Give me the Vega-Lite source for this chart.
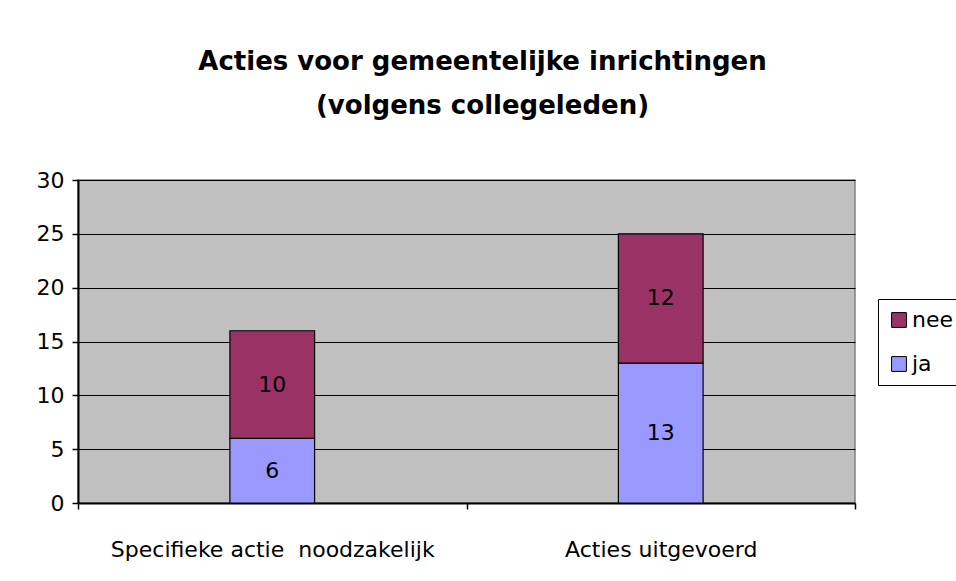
{
  "$schema": "https://vega.github.io/schema/vega-lite/v6.json",
  "autosize": "none",
  "width": 777,
  "height": 323,
  "padding": {"left": 78, "top": 180, "right": 101, "bottom": 78},
  "background": "white",
  "title": {
    "text": ["Acties voor gemeentelijke inrichtingen", "(volgens collegeleden)"],
    "anchor": "middle",
    "frame": "group",
    "dx": 16,
    "offset": 64,
    "dy": 40,
    "font": "DejaVu Sans",
    "fontSize": 26,
    "fontWeight": "bold",
    "color": "black",
    "lineHeight": 44,
    "baseline": "bottom"
  },
  "data": {
    "values": [
      {"categorie": "Specifieke actie\u00a0 noodzakelijk", "antwoord": "ja", "aantal": 6},
      {"categorie": "Specifieke actie\u00a0 noodzakelijk", "antwoord": "nee", "aantal": 10},
      {"categorie": "Acties uitgevoerd", "antwoord": "ja", "aantal": 13},
      {"categorie": "Acties uitgevoerd", "antwoord": "nee", "aantal": 12}
    ]
  },
  "transform": [
    {"stack": "aantal", "groupby": ["categorie"], "sort": [{"field": "antwoord", "order": "ascending"}], "as": ["y0", "y1"]},
    {"calculate": "(datum.y0 + datum.y1) / 2", "as": "mid"}
  ],
  "encoding": {
    "x": {
      "field": "categorie",
      "type": "nominal",
      "sort": null,
      "scale": {"paddingInner": 0, "paddingOuter": 0},
      "axis": {
        "title": null,
        "labelAngle": 0,
        "labelLimit": 0,
        "labelFont": "DejaVu Sans",
        "labelFontSize": 22,
        "labelColor": "black",
        "labelPadding": 30,
        "tickBand": "extent",
        "tickSize": 6,
        "tickColor": "black",
        "tickWidth": 1.5,
        "domainColor": "black",
        "domainWidth": 2,
        "grid": false
      }
    }
  },
  "layer": [
    {
      "mark": {"type": "bar", "width": {"band": 0.218}, "stroke": "black", "strokeWidth": 1.2},
      "encoding": {
        "y": {
          "field": "y0",
          "type": "quantitative",
          "scale": {"domain": [0, 30], "nice": false},
          "axis": {
            "title": null,
            "values": [0, 5, 10, 15, 20, 25, 30],
            "labelFont": "DejaVu Sans",
            "labelFontSize": 22,
            "labelColor": "black",
            "labelPadding": 8,
            "tickSize": 6,
            "tickColor": "black",
            "tickWidth": 1.5,
            "domainColor": "black",
            "domainWidth": 2,
            "grid": true,
            "gridColor": "black",
            "gridWidth": 1.2,
            "gridOpacity": 1
          }
        },
        "y2": {"field": "y1"},
        "color": {
          "field": "antwoord",
          "type": "nominal",
          "scale": {"domain": ["nee", "ja"], "range": ["#993366", "#9999FF"]},
          "legend": {
            "title": null,
            "orient": "none",
            "legendX": 800,
            "legendY": 119,
            "symbolType": "square",
            "symbolSize": 220,
            "symbolStrokeColor": "black",
            "symbolStrokeWidth": 1,
            "symbolOpacity": 1,
            "labelFont": "DejaVu Sans",
            "labelFontSize": 22,
            "labelColor": "black",
            "labelOffset": 2,
            "rowPadding": 22,
            "padding": 10,
            "strokeColor": "black",
            "fillColor": "white"
          }
        }
      }
    },
    {
      "mark": {"type": "text", "font": "DejaVu Sans", "fontSize": 22, "color": "black", "baseline": "middle"},
      "encoding": {
        "y": {"field": "mid", "type": "quantitative"},
        "text": {"field": "aantal", "type": "quantitative"}
      }
    }
  ],
  "config": {
    "view": {"fill": "#C0C0C0", "stroke": "#808080", "strokeWidth": 1.5}
  }
}
